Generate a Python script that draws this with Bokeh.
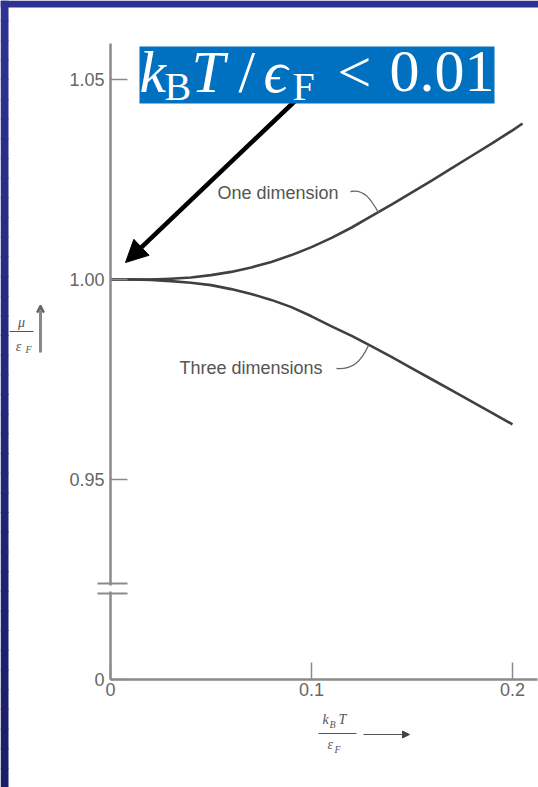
from bokeh.plotting import figure
from bokeh.models import Range1d, LinearAxis, FixedTicker, Label, Arrow, NormalHead, VeeHead
from bokeh.embed import file_html
from bokeh.resources import INLINE

# Chemical potential of an ideal Fermi gas, mu / eps_F, against k_B T / eps_F
t_one = [0.0, 0.01, 0.02, 0.03, 0.04, 0.05, 0.06, 0.07, 0.08, 0.09, 0.10,
         0.11, 0.12, 0.13, 0.14, 0.15, 0.16, 0.17, 0.18, 0.19, 0.20, 0.205]
mu_one = [1.0, 1.0000, 1.0000, 1.0002, 1.0005, 1.0011, 1.0019, 1.0030, 1.0044, 1.0061, 1.0081,
          1.0104, 1.0130, 1.0159, 1.0188, 1.0218, 1.0248, 1.0279, 1.0310, 1.0341, 1.0373, 1.0390]
t_three = [0.0, 0.01, 0.02, 0.03, 0.04, 0.05, 0.06, 0.07, 0.08, 0.09, 0.10,
           0.11, 0.12, 0.13, 0.14, 0.15, 0.16, 0.17, 0.18, 0.19, 0.20]
mu_three = [1.0, 1.0000, 0.9999, 0.9996, 0.9992, 0.9986, 0.9976, 0.9964, 0.9949, 0.9931, 0.9908,
            0.9883, 0.9859, 0.9833, 0.9806, 0.9778, 0.9750, 0.9722, 0.9694, 0.9666, 0.9638]

x_ticks = [0.0, 0.1, 0.2]
x_tick_labels = ["0", "0.1", "0.2"]
# the vertical axis is broken below 0.95; its zero sits one step further down
y_ticks = [0.90, 0.95, 1.00, 1.05]
y_tick_labels = ["0", "0.95", "1.00", "1.05"]

W, H = 538, 787
X0_PX, PX_PER_X = 110.0, 2010.0   # page column of t = 0, pixels per unit t
Y1_PX, PX_PER_Y = 279.0, 4000.0   # page row of mu = 1, pixels per unit mu


def sx(px):
    return (px - X0_PX) / PX_PER_X


def sy(py):
    return 1.0 + (Y1_PX - py) / PX_PER_Y


p = figure(width=W, height=H, x_range=Range1d(sx(0), sx(W)), y_range=Range1d(sy(H), sy(0)),
           x_axis_type=None, y_axis_type=None, toolbar_location=None,
           output_backend="svg", min_border=0)
p.outline_line_color = None
p.background_fill_color = "white"
p.border_fill_color = "white"

# slide frame: blue strip along the top and a darkening strip down the left
p.quad(left=sx(0), right=sx(W), top=sy(0), bottom=sy(7), fill_color="#2e3292", line_color=None)
N = 40
c0, c1 = (46, 50, 146), (26, 29, 104)
for i in range(N):
    f = i / (N - 1)
    col = "#%02x%02x%02x" % tuple(int(round(a + (b - a) * f)) for a, b in zip(c0, c1))
    p.quad(left=sx(0), right=sx(8), top=sy(H * i / N), bottom=sy(H * (i + 1) / N + 1),
           fill_color=col, line_color=None)

AX = "#8a8a8a"
TICK_TXT = "#666666"

yax = LinearAxis(fixed_location=0.0, ticker=FixedTicker(ticks=y_ticks),
                 major_label_overrides=dict(zip(y_ticks, y_tick_labels)),
                 bounds=(0.90, sy(43)))
xax = LinearAxis(fixed_location=0.90, ticker=FixedTicker(ticks=x_ticks),
                 major_label_overrides=dict(zip(x_ticks, x_tick_labels)),
                 bounds=(0.0, sx(537)))
for ax in (yax, xax):
    ax.axis_line_color = AX
    ax.axis_line_width = 2.5
    ax.major_tick_line_color = AX
    ax.major_tick_line_width = 1.5
    ax.major_tick_in = 17
    ax.major_tick_out = 0
    ax.minor_tick_line_color = None
    ax.major_label_text_font = "Liberation Sans"
    ax.major_label_text_font_size = "18px"
    ax.major_label_text_color = TICK_TXT
yax.major_label_standoff = 6
xax.major_label_standoff = 3
p.add_layout(yax, "left")
p.add_layout(xax, "below")

# axis break marks
brk = p.quad(left=sx(104), right=sx(116), top=sy(585), bottom=sy(591), fill_color="white", line_color=None)
brk.level = "overlay"
for py in (583, 593):
    r = p.segment(x0=sx(97), y0=sy(py), x1=sx(127), y1=sy(py), line_color=AX, line_width=2)
    r.level = "overlay"

# curves
CURVE = "#404040"
p.line(t_one, mu_one, line_width=2.6, line_color=CURVE, line_join="round")
p.line(t_three, mu_three, line_width=2.6, line_color=CURVE, line_join="round")

# curve captions with leaders
p.add_layout(Label(x=sx(217), y=sy(192), text="One dimension", text_font="Liberation Sans",
                   text_font_size="18px", text_color="#555555", text_baseline="middle"))
p.bezier(x0=sx(350), y0=sy(191), x1=sx(378), y1=sy(212), cx0=sx(364), cy0=sy(188),
         cx1=sx(371), cy1=sy(200), line_color="#666666", line_width=1.3)
p.add_layout(Label(x=sx(179), y=sy(367), text="Three dimensions", text_font="Liberation Sans",
                   text_font_size="18px", text_color="#555555", text_baseline="middle"))
p.bezier(x0=sx(336), y0=sy(368), x1=sx(368), y1=sy(345), cx0=sx(352), cy0=sy(369),
         cx1=sx(360), cy1=sy(362), line_color="#666666", line_width=1.3)

# axis titles: mu / eps_F with an upward arrow, k_B T / eps_F with a right arrow
LBL = "#555555"
p.add_layout(Label(x=sx(21), y=sy(322), text="μ", text_font="Liberation Serif", text_font_style="italic",
                   text_font_size="14px", text_color=LBL, text_align="center", text_baseline="middle"))
p.segment(x0=sx(9), y0=sy(331), x1=sx(33), y1=sy(331), line_color=LBL, line_width=1)
p.add_layout(Label(x=sx(18), y=sy(346), text="ε", text_font="Liberation Serif", text_font_style="italic",
                   text_font_size="14px", text_color=LBL, text_align="center", text_baseline="middle"))
p.add_layout(Label(x=sx(25), y=sy(349), text="F", text_font="Liberation Serif", text_font_style="italic",
                   text_font_size="10px", text_color=LBL, text_align="left", text_baseline="middle"))
p.add_layout(Arrow(end=VeeHead(size=7, line_color="#666666", line_width=2), x_start=sx(40), y_start=sy(352),
                   x_end=sx(40), y_end=sy(305), line_color="#888888", line_width=3))

p.add_layout(Label(x=sx(322), y=sy(726), text="k", text_font="Liberation Serif", text_font_style="italic",
                   text_font_size="14px", text_color=LBL))
p.add_layout(Label(x=sx(329), y=sy(729), text="B", text_font="Liberation Serif", text_font_style="italic",
                   text_font_size="10px", text_color=LBL))
p.add_layout(Label(x=sx(338), y=sy(726), text="T", text_font="Liberation Serif", text_font_style="italic",
                   text_font_size="14px", text_color=LBL))
p.segment(x0=sx(318), y0=sy(733), x1=sx(356), y1=sy(733), line_color=LBL, line_width=1)
p.add_layout(Label(x=sx(327), y=sy(751), text="ε", text_font="Liberation Serif", text_font_style="italic",
                   text_font_size="14px", text_color=LBL))
p.add_layout(Label(x=sx(334), y=sy(754), text="F", text_font="Liberation Serif", text_font_style="italic",
                   text_font_size="10px", text_color=LBL))
p.add_layout(Arrow(end=NormalHead(size=7, fill_color="#444444", line_color="#444444"), x_start=sx(363),
                   y_start=sy(734), x_end=sx(409), y_end=sy(734), line_color="#555555", line_width=1.2))

# callout: k_B T / eps_F < 0.01 pointing at the low-temperature end
p.add_layout(Arrow(end=NormalHead(size=22, fill_color="black", line_color="black"),
                   x_start=sx(294), y_start=sy(101), x_end=sx(125), y_end=sy(262),
                   line_color="black", line_width=4.5))
box = p.quad(left=sx(139), right=sx(494), top=sy(46), bottom=sy(103), fill_color="#0070c0", line_color=None)
box.level = "overlay"

# text rows below are alphabetic baselines, lifted to allow for how the label box is anchored
LIFT = 21
MAIN, SUB = "60px", "40px"
pieces = [
    ("k", 139, 92, MAIN, "italic"),
    ("B", 164, 100, SUB, "normal"),
    ("T", 191, 92, MAIN, "italic"),
    ("/", 238, 92, MAIN, "normal"),
    ("ϵ", 263, 92, MAIN, "italic"),
    ("F", 292, 100, SUB, "normal"),
    ("<", 337, 92, MAIN, "normal"),
    ("0.01", 389, 92, MAIN, "normal"),
]
for txt, px, py, size, style in pieces:
    lift = LIFT if size == MAIN else LIFT * 40 / 60
    p.add_layout(Label(x=sx(px), y=sy(py - lift), text=txt, text_font="Liberation Serif",
                       text_font_style=style, text_font_size=size, text_color="white",
                       text_baseline="alphabetic", text_align="left", level="overlay"))

open("out.html", "w").write(file_html(p, INLINE))
